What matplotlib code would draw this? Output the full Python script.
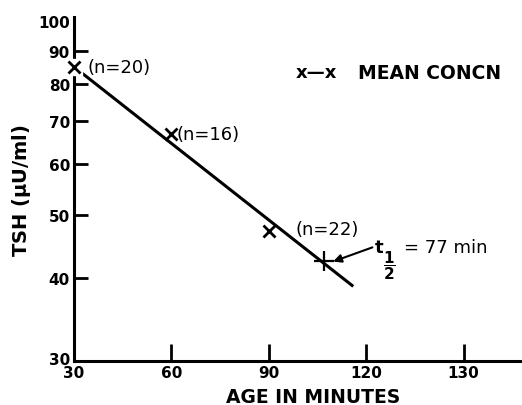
import numpy as np
import matplotlib
matplotlib.use("Agg")
import matplotlib.pyplot as plt

# mean concentrations
age_min = [30, 60, 90]
tsh_mean = [85, 67, 47.3]
n_labels = ["(n=20)", "(n=16)", "(n=22)"]

# fitted decay line and half-life point
fit_age = [30, 116]
fit_tsh = [85, 38.8]
half_age = [107]
half_tsh = [42.5]

xticks = [30, 60, 90, 120, 150]
xtick_labels = ["30", "60", "90", "120", "130"]
yticks = [30, 40, 50, 60, 70, 80, 90, 100]
ytick_labels = ["30", "40", "50", "60", "70", "80", "90", "100"]

plt.rcParams["font.family"] = ["DejaVu Sans"]

fig = plt.figure(figsize=(5.22, 4.06), dpi=100)
ax = fig.add_axes([0.142, 0.108, 0.858, 0.847])

ax.plot(fit_age, fit_tsh, color="black", lw=2.2, solid_capstyle="butt", zorder=2)
# small white patch so the first marker breaks the axis line, as in the print
ax.plot(age_min[:1], tsh_mean[:1], linestyle="none", marker="s", ms=11,
        color="white", mec="white", clip_on=False, zorder=3)
ax.plot(age_min, tsh_mean, linestyle="none", marker="x", ms=9, mew=2,
        color="black", clip_on=False, zorder=4)
ax.plot(half_age, half_tsh, linestyle="none", marker="+", ms=14, mew=1.6,
        color="black", zorder=4)

ax.set_yscale("log")
ax.set_xlim(30, 168)
ax.set_ylim(29.7, 101.5)

ax.set_xticks(xticks)
ax.set_xticklabels(xtick_labels)
ax.set_yticks(yticks)
ax.set_yticklabels(ytick_labels)
ax.yaxis.set_minor_locator(matplotlib.ticker.NullLocator())

ax.tick_params(axis="both", direction="in", width=2, labelsize=11)
ax.tick_params(axis="y", length=10, pad=3)
ax.tick_params(axis="x", length=12, pad=3)
for lbl in ax.get_xticklabels() + ax.get_yticklabels():
    lbl.set_fontweight("bold")
# no tick marks at the origin and the top label
ax.yaxis.get_major_ticks()[0].tick1line.set_visible(False)
ax.yaxis.get_major_ticks()[-1].tick1line.set_visible(False)
ax.xaxis.get_major_ticks()[0].tick1line.set_visible(False)

for s in ["top", "right"]:
    ax.spines[s].set_visible(False)
for s in ["left", "bottom"]:
    ax.spines[s].set_linewidth(2.2)

# sample size labels
offsets = [(9.5, 0), (3.5, 0), (19.5, 1.5)]
for x, y, t, (dx, dy) in zip(age_min, tsh_mean, n_labels, offsets):
    ax.annotate(t, (x, y), xytext=(dx, dy), textcoords="offset points",
                fontsize=13, va="center", ha="left")

# half-life annotation
ax.annotate("", xy=(109.8, 42.4), xytext=(121.9, 44.6),
            arrowprops=dict(arrowstyle="-|>", color="black", lw=1.5,
                            mutation_scale=12, shrinkA=0, shrinkB=0))
ax.text(122.6, 44.6, "t", fontsize=13, fontweight="bold", va="center", ha="left")
ax.text(125.3, 42.0, r"$\dfrac{\mathbf{1}}{\mathbf{2}}$", fontsize=11,
        va="center", ha="left")
ax.text(131.5, 44.6, "= 77 min", fontsize=13, va="center", ha="left")

# legend
ax.text(98.4, 83.4, "x\u2014x", fontsize=13, fontweight="bold", va="center", ha="left")
ax.text(117.5, 83.4, "MEAN CONCN", fontsize=13.5, fontweight="bold", va="center", ha="left")

ax.set_xlabel("AGE IN MINUTES", fontsize=13.5, fontweight="bold")
ax.xaxis.set_label_coords(0.533, -0.075)
ax.set_ylabel("TSH ($\\mathbf{\\mu}$U/ml)", fontsize=14, fontweight="bold", labelpad=4)

fig.savefig("out.png", dpi=100)
